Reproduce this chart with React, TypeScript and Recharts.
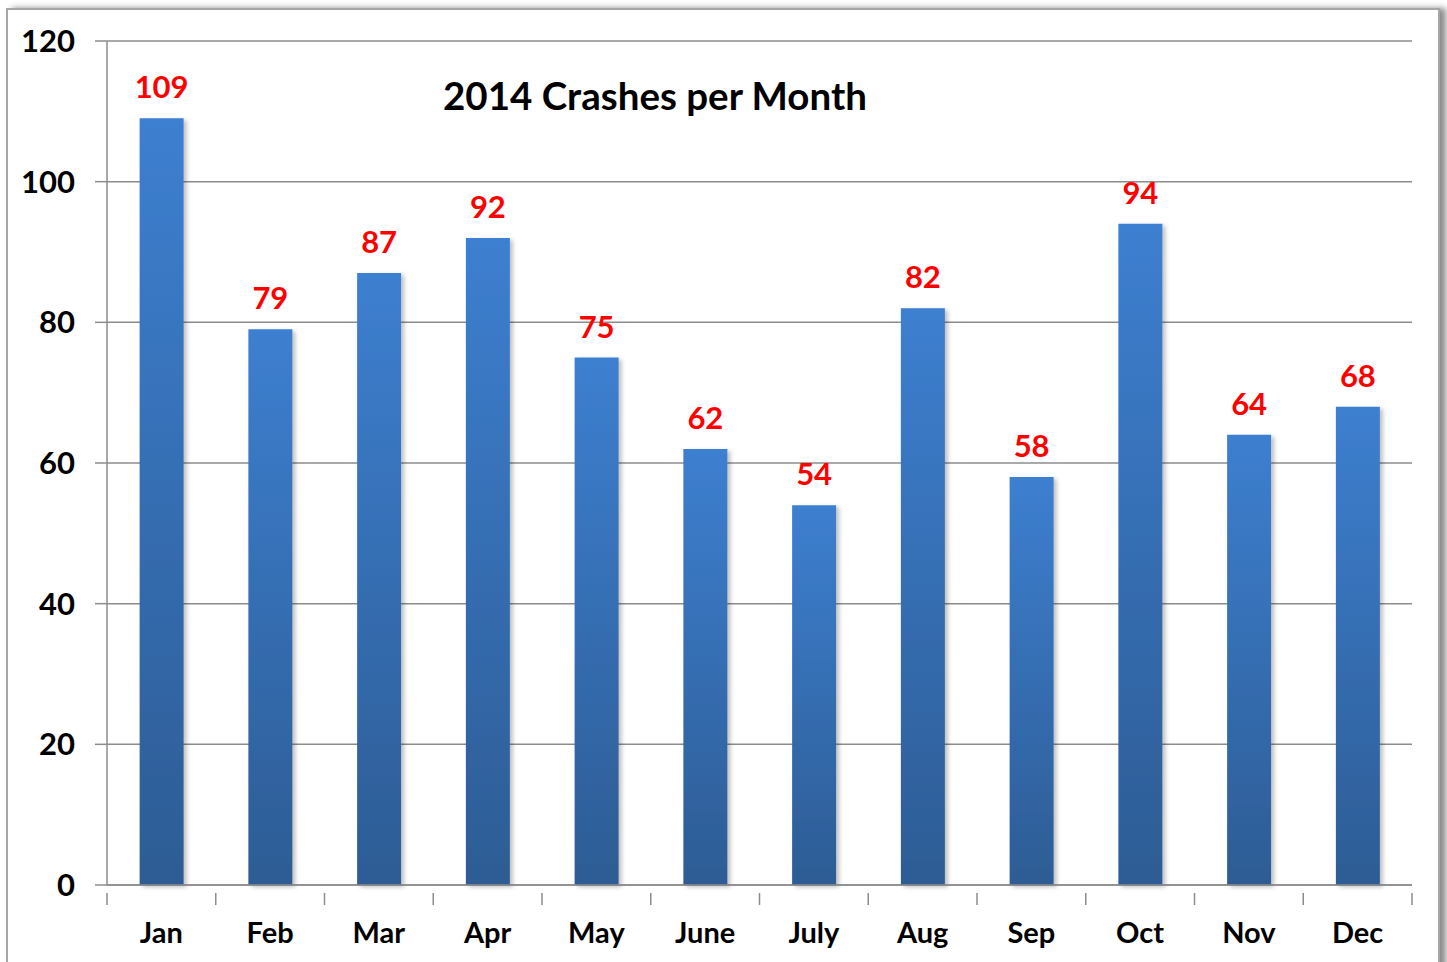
import { BarChart, Bar, XAxis, YAxis, CartesianGrid, LabelList } from 'recharts'

const months = ['Jan', 'Feb', 'Mar', 'Apr', 'May', 'June', 'July', 'Aug', 'Sep', 'Oct', 'Nov', 'Dec']
const crashes = [109, 79, 87, 92, 75, 62, 54, 82, 58, 94, 64, 68]
const yTicks = [0, 20, 40, 60, 80, 100, 120]

const data = months.map((month, i) => ({ month, crashes: crashes[i] }))

const FONT = 'Lato, "Open Sans", sans-serif'
const PLOT_LEFT = 107
const PLOT_RIGHT = 1412
const BAND = (PLOT_RIGHT - PLOT_LEFT) / months.length

// x tick: label under the bar, tick mark on the band boundary
function MonthTick(props: any) {
  const { x, y, payload, index } = props
  const left = x - BAND / 2
  return (
    <g>
      <line x1={left} y1={y} x2={left} y2={y + 12} stroke="#8c8c8c" strokeWidth={1.5} />
      {index === months.length - 1 && (
        <line x1={left + BAND} y1={y} x2={left + BAND} y2={y + 12} stroke="#8c8c8c" strokeWidth={1.5} />
      )}
      <text
        x={x}
        y={y + 50}
        textAnchor="middle"
        fill="#000"
        fontFamily={FONT}
        fontWeight={700}
        fontSize={29}
      >
        {payload.value}
      </text>
    </g>
  )
}

export default function App() {
  return (
    <div style={{ position: 'absolute', left: 0, top: 0, width: 1447, height: 962, background: '#fff', overflow: 'hidden' }}>
      <div
        style={{
          position: 'absolute',
          left: 6,
          top: 8,
          width: 1430,
          height: 980,
          border: '2px solid #a6a6a6',
          boxShadow: '6px 0 6px rgba(0,0,0,0.45)',
          background: '#fff',
        }}
      />
      <div style={{ position: 'absolute', left: 0, top: 0 }}>
        <BarChart
          width={1447}
          height={962}
          data={data}
          margin={{ top: 41, right: 1447 - PLOT_RIGHT, bottom: 0, left: 0 }}
          barCategoryGap="30%"
        >
          <defs>
            <linearGradient id="barFill" x1="0" y1="0" x2="0" y2="1">
              <stop offset="0%" stopColor="#3d7fd0" />
              <stop offset="100%" stopColor="#2d5c94" />
            </linearGradient>
            <filter id="barShadow" x="-20%" y="-5%" width="150%" height="110%">
              <feDropShadow dx="3" dy="2" stdDeviation="2" floodColor="#000" floodOpacity="0.25" />
            </filter>
          </defs>
          <CartesianGrid vertical={false} stroke="#8c8c8c" strokeWidth={1.5} />
          <XAxis
            dataKey="month"
            height={77}
            interval={0}
            stroke="#8c8c8c"
            strokeWidth={1.5}
            tickLine={false}
            tick={<MonthTick />}
          />
          <YAxis
            width={PLOT_LEFT}
            domain={[0, 120]}
            ticks={yTicks}
            interval={0}
            stroke="#8c8c8c"
            strokeWidth={1.5}
            tickSize={12}
            tickMargin={20}
            tick={{ fill: '#000', fontFamily: FONT, fontWeight: 700, fontSize: 31 }}
          />
          <Bar
            dataKey="crashes"
            fill="url(#barFill)"
            filter="url(#barShadow)"
            isAnimationActive={false}
          >
            <LabelList
              dataKey="crashes"
              position="top"
              offset={20}
              fill="#ff0000"
              fontFamily={FONT}
              fontWeight={700}
              fontSize={31}
            />
          </Bar>
        </BarChart>
      </div>
      <div
        style={{
          position: 'absolute',
          left: 655,
          top: 95,
          transform: 'translate(-50%, -50%)',
          fontFamily: FONT,
          fontWeight: 700,
          fontSize: 38.5,
          color: '#000',
          whiteSpace: 'nowrap',
        }}
      >
        2014 Crashes per Month
      </div>
    </div>
  )
}
